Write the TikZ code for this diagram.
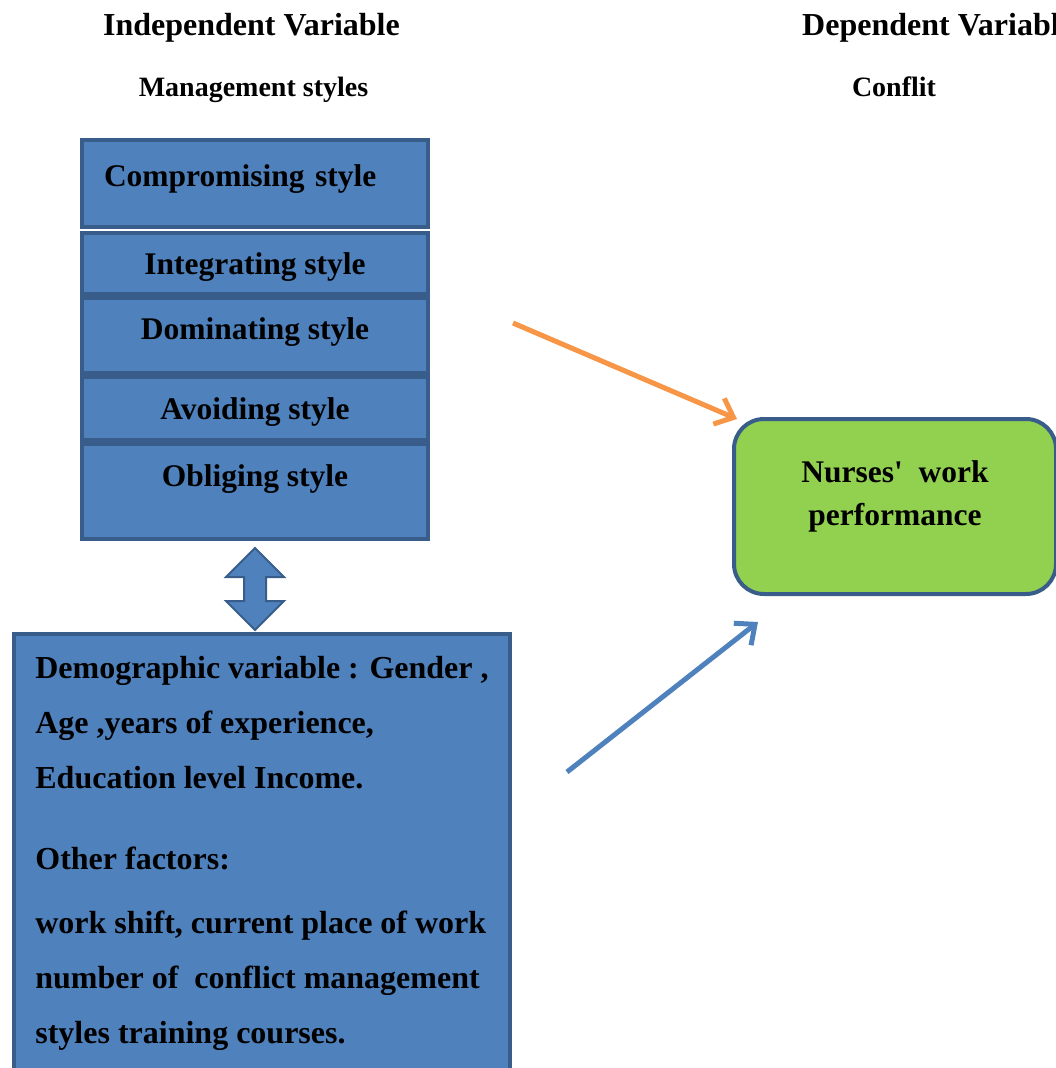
\documentclass[tikz,border=0pt]{standalone}
\usepackage{fontspec}
\setmainfont{Liberation Serif}[Ligatures=TeXOff]
\usepackage{tikz}
\usetikzlibrary{arrows.meta,positioning,shapes.arrows}
\usepackage{xcolor}
\definecolor{stblue}{HTML}{4F81BD}
\definecolor{stedge}{HTML}{385D8A}
\definecolor{perfgreen}{HTML}{92D050}
\definecolor{arrorange}{HTML}{F79646}

\begin{document}
\begin{tikzpicture}[x=1pt, y=-1pt, node distance=0pt and 0pt, every node/.style={font=\bfseries\fontsize{31.5}{37}\selectfont}]
\tikzset{hdr/.style={inner sep=0pt, font=\bfseries\fontsize{32}{37}\selectfont}}
\tikzset{subhdr/.style={inner sep=0pt, font=\bfseries\fontsize{28}{33}\selectfont}}
\tikzset{sty/.style={draw=stedge, line width=4pt, fill=stblue, minimum width=346pt, inner sep=0pt, text height=22pt, text depth=#1}, sty/.default=0pt}
\tikzset{lnk/.style={line width=5pt, -{Straight Barb[length=16pt, width=28pt]}}}
\useasboundingbox (0,0) rectangle (1056,1068);
\clip (0,0) rectangle (1056,1068);
% headings
\node[hdr] (ivar) at (251.5,27.5) {Independent Variable};
\node[hdr, anchor=west] (dvar) at (802,27.5) {Dependent Variable};
\node[subhdr] (mstyle) at (253.5,89.5) {Management styles};
\node[subhdr] (confl) at (894,87) {Conflit};
% management styles
\node[sty=16pt, minimum height=87pt, text width=302pt, align=left, inner xsep=22pt] (comp) at (255,183.5) {Compromising style};
\node[sty, minimum height=61pt, below=2pt of comp] (integ) {Integrating style};
\node[sty=15pt, minimum height=75pt, below=0pt of integ] (domin) {Dominating style};
\node[sty, minimum height=63pt, below=0pt of domin] (avoid) {Avoiding style};
\node[sty=32pt, minimum height=95pt, below=0pt of avoid] (oblig) {Obliging style};
% two-way link
\node[draw=stedge, line width=2pt, fill=stblue, double arrow, rotate=90, minimum height=82pt, double arrow head extend=18pt, inner xsep=0pt, inner ysep=10pt] (link) at (255,589) {};
% demographic and other factors
\node[draw=stedge, line width=4pt, fill=stblue, anchor=north west, minimum width=496pt, inner xsep=0pt, inner ysep=22pt, align=left, font=\bfseries\fontsize{32}{55}\selectfont] (demo) at (12,632) {Demographic variable : Gender ,\\ Age ,years of experience,\\ Education level Income.\\[26pt] Other factors:\\[9pt] work shift, current place of work\\ number of~~conflict management\\ styles training courses.\\ \mbox{}};
% outcome
\node[draw=stedge, line width=4pt, fill=perfgreen, rounded corners=30pt, minimum width=322pt, minimum height=175pt, align=center, text depth=27pt, font=\bfseries\fontsize{31.5}{43}\selectfont] (perf) at (895,506.5) {Nurses'~~work\\performance};
\coordinate (o1) at (513,323);
\coordinate (o2) at (737,419);
\coordinate (b1) at (567,772);
\coordinate (b2) at (758,622);
\draw[lnk, arrorange] (o1) -- (o2);
\draw[lnk, stblue] (b1) -- (b2);
\end{tikzpicture}
\end{document}
